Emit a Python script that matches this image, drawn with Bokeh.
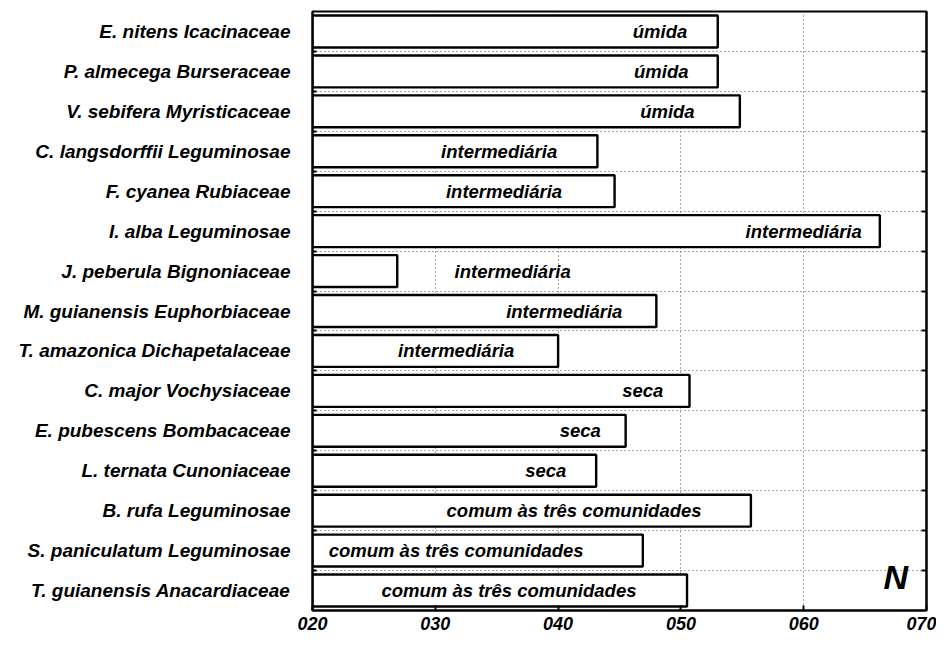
from bokeh.plotting import figure
from bokeh.models import Range1d, FixedTicker, LinearAxis
from bokeh.core.properties import value
from bokeh.embed import file_html
from bokeh.resources import INLINE

species = [
    "E. nitens Icacinaceae",
    "P. almecega Burseraceae",
    "V. sebifera Myristicaceae",
    "C. langsdorffii Leguminosae",
    "F. cyanea Rubiaceae",
    "I. alba Leguminosae",
    "J. peberula Bignoniaceae",
    "M. guianensis Euphorbiaceae",
    "T. amazonica Dichapetalaceae",
    "C. major Vochysiaceae",
    "E. pubescens Bombacaceae",
    "L. ternata Cunoniaceae",
    "B. rufa Leguminosae",
    "S. paniculatum Leguminosae",
    "T. guianensis Anacardiaceae",
]
values = [53.0, 53.0, 54.8, 43.2, 44.6, 66.2, 26.9, 48.0, 40.0,
          50.7, 45.5, 43.1, 55.7, 46.9, 50.5]
groups = (["úmida"] * 3 + ["intermediária"] * 6 + ["seca"] * 3
          + ["comum às três comunidades"] * 3)
label_x = [48.3, 48.4, 48.9, 35.2, 35.6, 60.0, 36.3, 40.5, 31.7,
           46.9, 41.8, 39.0, 41.3, 31.7, 36.0]
x_ticks = [20, 30, 40, 50, 60, 70]
x_tick_labels = ["020", "030", "040", "050", "060", "070"]
base = 20

FONT = "Liberation Sans"
n = len(species)
ys = [i + 0.5 for i in range(n)]
bounds = [i for i in range(1, n)]

p = figure(width=936, height=637, x_range=Range1d(20, 70), y_range=Range1d(n, 0),
           output_backend="svg", toolbar_location=None,
           min_border_left=312, min_border_top=11, min_border_right=10,
           min_border_bottom=27)

p.hbar(y=ys, left=base, right=values, height=0.8, fill_color="white",
       line_color="black", line_width=2.4)

p.text(x=label_x, y=ys, text=groups, text_font=value(FONT),
       text_font_style="bold italic", text_font_size="18.5px",
       text_align="center", text_baseline="middle", text_color="black")

p.text(x=[67.5], y=[14.15], text=["N"], text_font=value(FONT),
       text_font_style="bold italic", text_font_size="34px",
       text_align="center", text_baseline="middle", text_color="black")

# x axis
xa = p.xaxis[0]
xa.ticker = FixedTicker(ticks=x_ticks)
xa.major_label_overrides = {t: l for t, l in zip(x_ticks, x_tick_labels)}
xa.major_label_text_font = FONT
xa.major_label_text_font_style = "bold italic"
xa.major_label_text_font_size = "18px"
xa.major_label_text_color = "black"
xa.major_tick_in = 5
xa.major_tick_out = 0
xa.minor_tick_in = 0
xa.minor_tick_out = 0
xa.major_label_standoff = 6
xa.axis_line_width = 2
xa.major_tick_line_width = 2

# y axis
ya = p.yaxis[0]
ya.ticker = FixedTicker(ticks=ys, minor_ticks=bounds)
ya.major_label_overrides = {y: s for y, s in zip(ys, species)}
ya.major_label_text_font = FONT
ya.major_label_text_font_style = "bold italic"
ya.major_label_text_font_size = "19px"
ya.major_label_text_color = "black"
ya.major_tick_in = 0
ya.major_tick_out = 0
ya.minor_tick_in = 4
ya.minor_tick_out = 0
ya.minor_tick_line_width = 2
ya.major_label_standoff = 22
ya.axis_line_width = 2

ra = LinearAxis(ticker=FixedTicker(ticks=bounds), major_label_text_font_size="0px",
                major_tick_in=5, major_tick_out=0, minor_tick_in=0, minor_tick_out=0,
                major_tick_line_width=2, axis_line_width=2)
p.add_layout(ra, "right")

p.xgrid.ticker = FixedTicker(ticks=[30, 40, 50, 60])
p.ygrid.ticker = FixedTicker(ticks=bounds)
for g in (p.xgrid[0], p.ygrid[0]):
    g.grid_line_color = "#555555"
    g.grid_line_dash = "1 3"
    g.grid_line_width = 1

p.outline_line_color = "black"
p.outline_line_width = 2
p.background_fill_color = "white"
p.border_fill_color = "white"

open("out.html", "w").write(file_html(p, INLINE))
